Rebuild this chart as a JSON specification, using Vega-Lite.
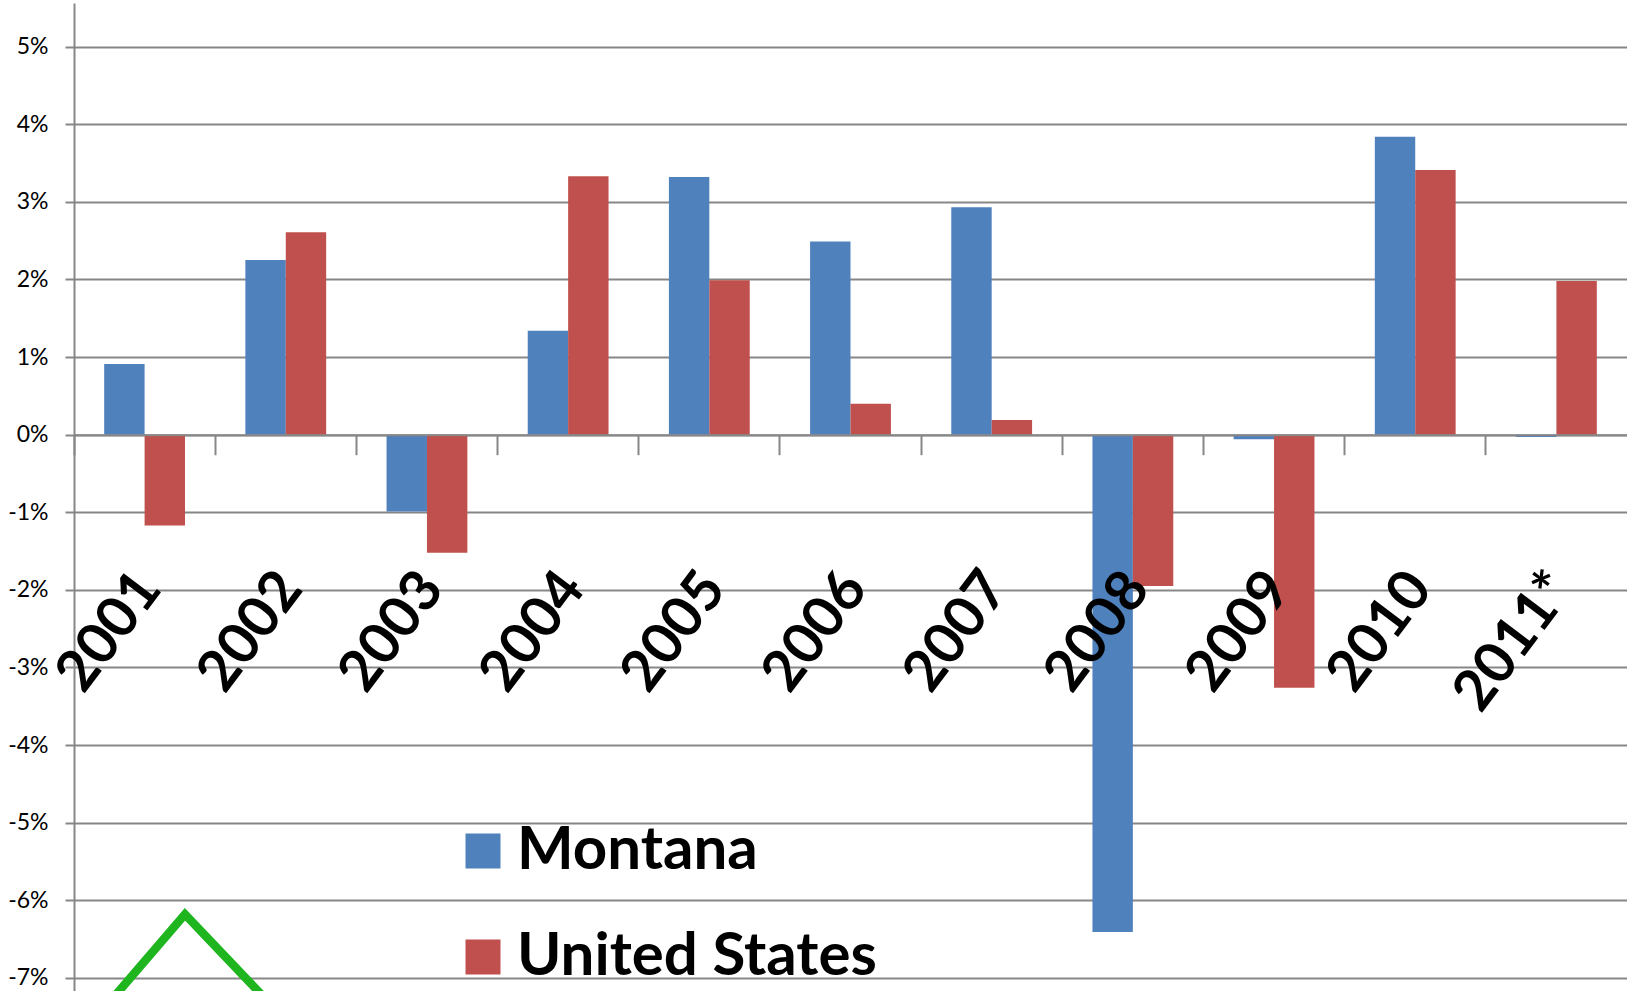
{
  "$schema": "https://vega.github.io/schema/vega-lite/v6.json",
  "width": 1553,
  "height": 988,
  "autosize": {"type": "none"},
  "padding": {"left": 74, "top": 3, "right": 0, "bottom": 0},
  "background": "white",
  "config": {"view": {"stroke": null}, "font": "Lato"},
  "layer": [
    {
      "data": {
        "values": [
          {"year": "2001", "series": "Montana", "value": 0.91},
          {"year": "2001", "series": "United States", "value": -1.17},
          {"year": "2002", "series": "Montana", "value": 2.25},
          {"year": "2002", "series": "United States", "value": 2.61},
          {"year": "2003", "series": "Montana", "value": -0.99},
          {"year": "2003", "series": "United States", "value": -1.52},
          {"year": "2004", "series": "Montana", "value": 1.34},
          {"year": "2004", "series": "United States", "value": 3.33},
          {"year": "2005", "series": "Montana", "value": 3.32},
          {"year": "2005", "series": "United States", "value": 1.99},
          {"year": "2006", "series": "Montana", "value": 2.49},
          {"year": "2006", "series": "United States", "value": 0.40},
          {"year": "2007", "series": "Montana", "value": 2.93},
          {"year": "2007", "series": "United States", "value": 0.19},
          {"year": "2008", "series": "Montana", "value": -6.41},
          {"year": "2008", "series": "United States", "value": -1.95},
          {"year": "2009", "series": "Montana", "value": -0.06},
          {"year": "2009", "series": "United States", "value": -3.26},
          {"year": "2010", "series": "Montana", "value": 3.84},
          {"year": "2010", "series": "United States", "value": 3.41},
          {"year": "2011*", "series": "Montana", "value": -0.03},
          {"year": "2011*", "series": "United States", "value": 1.98}
        ]
      },
      "mark": {"type": "bar", "strokeWidth": 0},
      "encoding": {
        "x": {
          "field": "year",
          "type": "nominal",
          "sort": null,
          "scale": {"paddingInner": 0.4276, "paddingOuter": 0.2138},
          "axis": {
            "title": null,
            "offset": -556.3,
            "zindex": 1,
            "domainColor": "#878787",
            "domainWidth": 2,
            "bandPosition": -0.3735,
            "tickColor": "#878787",
            "tickWidth": 2,
            "tickSize": 20,
            "labelAngle": -53,
            "labelAlign": "right",
            "labelBaseline": "middle",
            "labelPadding": 124,
            "labelOffset": 5,
            "labelFont": "Lato",
            "labelFontWeight": "bold",
            "labelFontSize": 57,
            "labelColor": "black",
            "labelOverlap": false,
            "labelBound": false,
            "labelFlush": false,
            "labelLimit": 0,
            "grid": false
          }
        },
        "xOffset": {
          "field": "series",
          "type": "nominal",
          "scale": {"paddingInner": 0, "paddingOuter": 0}
        },
        "y": {
          "field": "value",
          "type": "quantitative",
          "scale": {"domain": [-7.169, 5.563], "nice": false, "zero": false},
          "axis": {
            "title": null,
            "values": [-7, -6, -5, -4, -3, -2, -1, 0, 1, 2, 3, 4, 5],
            "labelExpr": "datum.value + '%'",
            "labelFont": "Lato",
            "labelFontSize": 23,
            "labelColor": "black",
            "labelPadding": 17,
            "tickSize": 9,
            "tickColor": "#878787",
            "tickWidth": 2,
            "domainColor": "#878787",
            "domainWidth": 2,
            "grid": true,
            "gridColor": "#878787",
            "gridWidth": 2,
            "labelFlush": false,
            "labelOverlap": false
          }
        },
        "color": {
          "field": "series",
          "type": "nominal",
          "scale": {"domain": ["Montana", "United States"], "range": ["#4F81BD", "#C0504D"]},
          "legend": {
            "orient": "none",
            "legendX": 379,
            "legendY": 818,
            "title": null,
            "padding": 0,
            "symbolType": "square",
            "symbolSize": 1225,
            "symbolStrokeWidth": 0,
            "symbolOpacity": 1,
            "labelFont": "Lato",
            "labelFontSize": 60,
            "labelFontWeight": "bold",
            "labelColor": "black",
            "labelOffset": 4,
            "labelLimit": 0,
            "rowPadding": 46
          }
        }
      }
    },
    {
      "data": {
        "values": [
          {"gx": 0.163, "gy": -7.5, "ord": 1},
          {"gx": 0.786, "gy": -6.18, "ord": 2},
          {"gx": 1.476, "gy": -7.5, "ord": 3}
        ]
      },
      "mark": {"type": "line", "color": "#1fb51f", "strokeWidth": 8.5, "clip": true, "strokeJoin": "miter"},
      "encoding": {
        "x": {
          "field": "gx",
          "type": "quantitative",
          "scale": {"domain": [0, 11], "nice": false, "zero": false},
          "axis": null
        },
        "y": {"field": "gy", "type": "quantitative"},
        "order": {"field": "ord"}
      }
    }
  ],
  "resolve": {"scale": {"x": "independent"}}
}
